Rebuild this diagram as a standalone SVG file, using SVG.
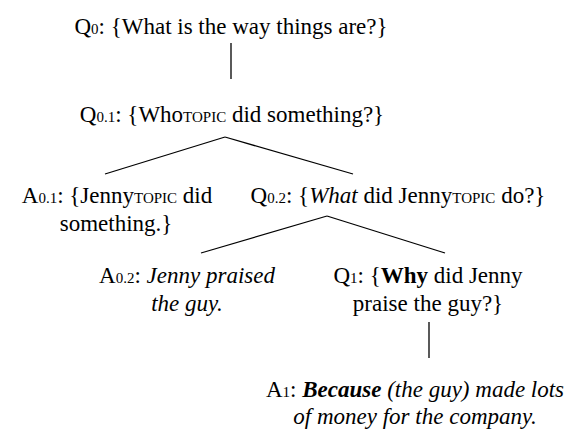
<svg xmlns="http://www.w3.org/2000/svg" width="575" height="433" viewBox="0 0 575 433">
<style>
text{font-family:"Liberation Serif","Times New Roman",serif;font-size:23px;fill:#000;text-anchor:middle}
.s{font-size:15px}
.i{font-style:italic}
.b{font-weight:bold}
line{stroke:#000;stroke-width:1.3}
</style>
<rect width="575" height="433" fill="#fff"/>
<g id="connectors">
<line x1="231" y1="43" x2="231" y2="79"/>
<line x1="225" y1="137" x2="105" y2="174"/>
<line x1="225" y1="137" x2="353" y2="174"/>
<line x1="327" y1="216" x2="201" y2="253"/>
<line x1="327" y1="216" x2="445" y2="253"/>
<line x1="429" y1="322" x2="429" y2="358"/>
</g>
<g id="Q0"><text x="231" y="34">Q<tspan class="s">0</tspan>: {What is the way things are?}</text></g>
<g id="Q0.1"><text x="232" y="122">Q<tspan class="s">0.1</tspan>: {Who<tspan class="s">TOPIC</tspan> did something?}</text></g>
<g id="A0.1"><text x="117" y="203">A<tspan class="s">0.1</tspan>: {Jenny<tspan class="s">TOPIC</tspan> did</text><text x="116" y="231">something.}</text></g>
<g id="Q0.2"><text x="398" y="203">Q<tspan class="s">0.2</tspan>: {<tspan class="i">What</tspan> did Jenny<tspan class="s">TOPIC</tspan> do?}</text></g>
<g id="A0.2"><text x="187" y="283">A<tspan class="s">0.2</tspan>: <tspan class="i">Jenny praised</tspan></text><text x="187" y="311" class="i">the guy.</text></g>
<g id="Q1"><text x="428" y="283">Q<tspan class="s">1</tspan>: {<tspan class="b">Why</tspan> did Jenny</text><text x="428" y="311">praise the guy?}</text></g>
<g id="A1"><text x="415" y="397">A<tspan class="s">1</tspan>: <tspan class="i b">Because</tspan> <tspan class="i">(the guy) made lots</tspan></text><text x="415" y="424" class="i">of money for the company.</text></g>
</svg>
